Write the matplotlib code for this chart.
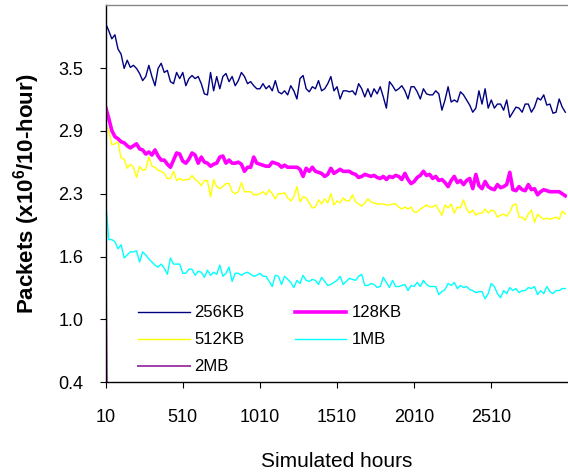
import numpy as np
import matplotlib
matplotlib.use("Agg")
from matplotlib import pyplot as plt

plt.rcParams['font.family'] = ['Liberation Sans', 'DejaVu Sans']
plt.rcParams['mathtext.fontset'] = 'custom'
plt.rcParams['mathtext.rm'] = 'Liberation Sans'
plt.rcParams['mathtext.bf'] = 'Liberation Sans:bold'

# one sample every 20 simulated hours
hours = np.arange(10, 3000, 20)

kb256 = [3.92, 3.85, 3.77, 3.81, 3.67, 3.62, 3.48, 3.56, 3.49, 3.51, 3.48, 3.43, 3.36, 3.40, 3.51, 3.40, 3.31, 3.48, 3.53, 3.44, 3.46, 3.35, 3.33, 3.44, 3.38,
         3.44, 3.31, 3.38, 3.41, 3.38, 3.40, 3.33, 3.23, 3.22, 3.44, 3.26, 3.40, 3.28, 3.40, 3.43, 3.35, 3.40, 3.31, 3.36, 3.44, 3.40, 3.33, 3.35, 3.31, 3.28,
         3.28, 3.33, 3.28, 3.31, 3.26, 3.36, 3.25, 3.23, 3.26, 3.22, 3.31, 3.26, 3.18, 3.38, 3.41, 3.28, 3.25, 3.30, 3.28, 3.36, 3.26, 3.28, 3.33, 3.40, 3.26,
         3.30, 3.18, 3.26, 3.26, 3.25, 3.26, 3.22, 3.33, 3.28, 3.20, 3.28, 3.20, 3.28, 3.23, 3.30, 3.20, 3.09, 3.35, 3.31, 3.26, 3.28, 3.31, 3.26, 3.18, 3.30,
         3.30, 3.25, 3.18, 3.28, 3.23, 3.22, 3.22, 3.26, 3.23, 3.07, 3.17, 3.30, 3.15, 3.17, 3.15, 3.25, 3.22, 3.17, 3.12, 3.05, 3.09, 3.26, 3.13, 3.28, 3.09,
         3.17, 3.09, 3.13, 3.13, 3.07, 3.17, 3.00, 3.05, 3.10, 3.09, 3.05, 3.13, 3.13, 3.05, 3.10, 3.19, 3.17, 3.22, 3.12, 3.13, 3.04, 3.05, 3.18, 3.10, 3.05]

kb128 = [3.10, 2.99, 2.87, 2.81, 2.79, 2.76, 2.75, 2.72, 2.70, 2.72, 2.74, 2.69, 2.68, 2.64, 2.66, 2.63, 2.68, 2.62, 2.58, 2.58, 2.54, 2.51, 2.58, 2.65, 2.64,
         2.57, 2.55, 2.59, 2.65, 2.63, 2.55, 2.61, 2.56, 2.55, 2.52, 2.54, 2.55, 2.61, 2.62, 2.55, 2.58, 2.55, 2.55, 2.56, 2.54, 2.47, 2.51, 2.51, 2.61, 2.55,
         2.54, 2.53, 2.52, 2.52, 2.56, 2.55, 2.54, 2.51, 2.53, 2.51, 2.51, 2.51, 2.51, 2.49, 2.42, 2.50, 2.47, 2.51, 2.47, 2.46, 2.45, 2.42, 2.44, 2.50, 2.45,
         2.47, 2.49, 2.47, 2.47, 2.47, 2.45, 2.44, 2.41, 2.42, 2.44, 2.43, 2.42, 2.43, 2.41, 2.40, 2.42, 2.39, 2.42, 2.41, 2.43, 2.42, 2.39, 2.45, 2.39, 2.35,
         2.37, 2.41, 2.43, 2.47, 2.43, 2.44, 2.40, 2.42, 2.38, 2.39, 2.36, 2.32, 2.38, 2.42, 2.36, 2.38, 2.34, 2.38, 2.40, 2.30, 2.44, 2.33, 2.30, 2.37, 2.32,
         2.30, 2.29, 2.34, 2.31, 2.32, 2.34, 2.46, 2.29, 2.28, 2.32, 2.29, 2.28, 2.34, 2.29, 2.30, 2.24, 2.27, 2.29, 2.28, 2.27, 2.27, 2.27, 2.27, 2.25, 2.23]

kb512 = [2.93, 2.87, 2.73, 2.74, 2.76, 2.60, 2.59, 2.50, 2.54, 2.51, 2.41, 2.52, 2.48, 2.49, 2.61, 2.52, 2.51, 2.48, 2.47, 2.45, 2.40, 2.40, 2.47, 2.38, 2.40,
         2.38, 2.39, 2.39, 2.43, 2.39, 2.37, 2.33, 2.38, 2.38, 2.22, 2.39, 2.32, 2.30, 2.32, 2.35, 2.35, 2.27, 2.25, 2.27, 2.36, 2.27, 2.27, 2.27, 2.24, 2.24,
         2.25, 2.27, 2.24, 2.29, 2.25, 2.20, 2.25, 2.25, 2.26, 2.21, 2.18, 2.22, 2.32, 2.17, 2.22, 2.21, 2.16, 2.11, 2.12, 2.19, 2.15, 2.20, 2.16, 2.25, 2.14,
         2.18, 2.16, 2.21, 2.18, 2.18, 2.24, 2.17, 2.15, 2.13, 2.16, 2.20, 2.17, 2.16, 2.15, 2.15, 2.15, 2.14, 2.14, 2.15, 2.15, 2.12, 2.10, 2.12, 2.10, 2.12,
         2.07, 2.07, 2.10, 2.12, 2.14, 2.12, 2.12, 2.14, 2.09, 2.04, 2.14, 2.11, 2.15, 2.06, 2.12, 2.11, 2.19, 2.10, 2.06, 2.09, 2.04, 2.06, 2.06, 2.10, 2.06,
         2.09, 2.08, 2.02, 2.04, 2.05, 2.03, 2.07, 2.14, 2.15, 2.02, 2.02, 1.99, 2.05, 2.09, 1.97, 2.05, 2.02, 2.00, 2.01, 2.00, 2.01, 2.02, 2.00, 2.08, 2.05]

mb1 = [2.19, 1.80, 1.80, 1.78, 1.71, 1.75, 1.62, 1.65, 1.68, 1.68, 1.69, 1.58, 1.68, 1.65, 1.61, 1.58, 1.55, 1.53, 1.56, 1.52, 1.46, 1.62, 1.56, 1.56, 1.56,
       1.47, 1.47, 1.51, 1.51, 1.45, 1.49, 1.48, 1.43, 1.50, 1.45, 1.48, 1.46, 1.55, 1.44, 1.47, 1.53, 1.39, 1.47, 1.47, 1.45, 1.47, 1.48, 1.46, 1.44, 1.45,
       1.47, 1.44, 1.44, 1.39, 1.34, 1.45, 1.44, 1.36, 1.44, 1.41, 1.38, 1.33, 1.40, 1.37, 1.45, 1.40, 1.39, 1.41, 1.40, 1.36, 1.43, 1.39, 1.35, 1.36, 1.38,
       1.40, 1.44, 1.36, 1.39, 1.42, 1.41, 1.40, 1.44, 1.46, 1.35, 1.35, 1.37, 1.36, 1.33, 1.34, 1.43, 1.38, 1.33, 1.40, 1.34, 1.34, 1.35, 1.36, 1.30, 1.35,
       1.34, 1.38, 1.34, 1.40, 1.36, 1.34, 1.34, 1.34, 1.26, 1.29, 1.31, 1.37, 1.35, 1.38, 1.32, 1.35, 1.33, 1.34, 1.31, 1.30, 1.28, 1.29, 1.29, 1.22, 1.27,
       1.37, 1.34, 1.27, 1.23, 1.30, 1.27, 1.33, 1.30, 1.32, 1.28, 1.30, 1.30, 1.33, 1.32, 1.34, 1.26, 1.30, 1.27, 1.34, 1.29, 1.27, 1.30, 1.30, 1.32, 1.32]

# 2MB collapses right after the start
hours_2mb = [10, 20, 30]
mb2 = [1.70, 0.0, 0.0]

ytick_vals = np.linspace(0.4, 4.1, 7)[:-1]
ytick_labels = ['0.4', '1.0', '1.6', '2.3', '2.9', '3.5']
xtick_vals = [10, 510, 1010, 1510, 2010, 2510]

fig = plt.figure(figsize=(5.68, 4.72), dpi=100)
ax = fig.add_axes([0.186, 0.190, 0.812, 0.799])

l256, = ax.plot(hours, kb256, color='#000080', lw=1.0, label='256KB')
l512, = ax.plot(hours, kb512, color='#ffff00', lw=1.0, label='512KB')
l1m, = ax.plot(hours, mb1, color='#00ffff', lw=1.0, label='1MB')
l128, = ax.plot(hours, kb128, color='#ff00ff', lw=2.6, label='128KB')
l2m, = ax.plot(hours_2mb, mb2, color='#a040a8', lw=1.4, label='2MB')

ax.set_xlim(10, 3000)
ax.set_ylim(0.4, 4.1)
ax.set_xticks(xtick_vals)
ax.set_xticklabels([str(v) for v in xtick_vals])
ax.set_yticks(ytick_vals)
ax.set_yticklabels(ytick_labels)
ax.tick_params(axis='x', direction='out', length=4, pad=15, labelsize=13)
ax.tick_params(axis='y', direction='out', length=4, pad=12, labelsize=13)

for s in ['left', 'bottom']:
    ax.spines[s].set_color('black')
    ax.spines[s].set_linewidth(1.0)
ax.spines['top'].set_color('#888888')
ax.spines['top'].set_linewidth(1.0)
ax.spines['right'].set_visible(False)

ax.set_xlabel('Simulated hours', fontsize=15)
ax.set_ylabel(r'Packets (x10$^{\mathbf{6}}$/10-hour)', fontsize=16, fontweight='bold')
ax.xaxis.set_label_coords(0.5, -0.185)
ax.yaxis.set_label_coords(-0.139, 0.5)

ax.legend(handles=[l256, l512, l2m, l128, l1m], ncol=2, frameon=False, fontsize=12,
          loc='upper left', bbox_to_anchor=(0.07, 0.204), borderaxespad=0, borderpad=0,
          handlelength=3.1, handletextpad=0.3, columnspacing=3.0, labelspacing=0.72)

fig.savefig('out.png', dpi=100)
